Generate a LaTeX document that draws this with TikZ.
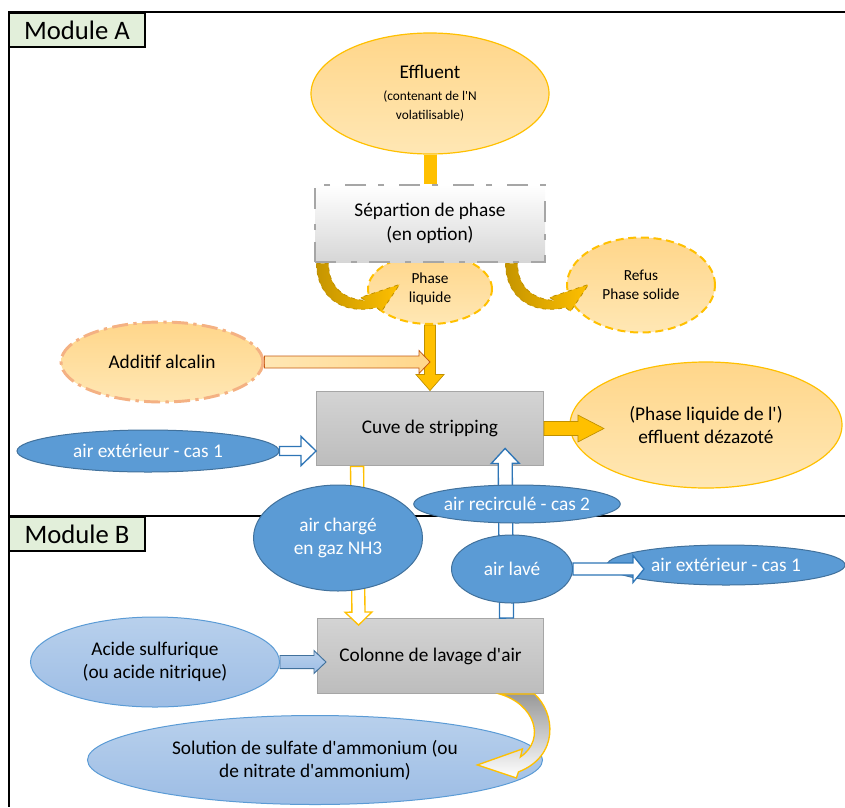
\documentclass[tikz,border=0pt]{standalone}
\usepackage{fontspec}
\setmainfont{Carlito}[Ligatures=TeXOff]
\usepackage{tikz}
\usetikzlibrary{calc}
\usetikzlibrary{shapes.geometric}
\definecolor{amber}{RGB}{255, 192, 0}
\definecolor{darkamber}{RGB}{191, 144, 0}
\definecolor{peach}{RGB}{255, 214, 138}
\definecolor{lightpeach}{RGB}{255, 231, 180}
\definecolor{salmon}{RGB}{244, 177, 131}
\definecolor{rust}{RGB}{197, 90, 17}
\definecolor{steelblue}{RGB}{91, 155, 213}
\definecolor{navyline}{RGB}{65, 113, 156}
\definecolor{arrowblue}{RGB}{46, 117, 182}
\definecolor{paleblue}{RGB}{184, 208, 236}
\definecolor{skyblue}{RGB}{157, 189, 229}
\definecolor{mintgreen}{RGB}{226, 239, 218}
\definecolor{ashgray}{RGB}{166, 166, 166}
\pgfdeclarelayer{back}
\pgfdeclarelayer{mid}
\pgfdeclarelayer{front}
\pgfsetlayers{back,mid,main,front}
\newcommand{\bodyfnt}{\fontsize{14.5}{17.5}\selectfont}
\newcommand{\notefnt}{\fontsize{10}{13}\selectfont}
\newcommand{\labelfnt}{\fontsize{11.5}{14.5}\selectfont}
\newcommand{\modfnt}{\fontsize{20}{24}\selectfont}
% straight block arrow: style, from, to, half shaft, half head, head length
\newcommand{\blockarrow}[6]{%
  \coordinate (ba) at ($(#3)!#6!(#2)$);
  \draw[#1] ($(#2)!#4!90:(#3)$) -- ($(ba)!#4!90:(#3)$) -- ($(ba)!#5!90:(#3)$) -- (#3)
        -- ($(ba)!#5!-90:(#3)$) -- ($(ba)!#4!-90:(#3)$) -- ($(#2)!#4!-90:(#3)$) -- cycle;
}
\tikzset{
  frame/.style={draw=black, line width=1.8pt},
  module/.style={draw=black, line width=1.5pt, fill=mintgreen, minimum width=102pt, minimum height=26pt, font=\modfnt},
  graybox/.style={rectangle, draw=ashgray, line width=0.9pt, top color=black!17, bottom color=black!26, minimum width=170pt, minimum height=56pt, font=\bodyfnt},
  sepbox/.style={rectangle, draw=ashgray, line width=2.2pt, dash pattern=on 16pt off 11pt on 4.5pt off 9pt, top color=white, bottom color=black!16, minimum width=172.5pt, minimum height=57.75pt, align=center, font=\bodyfnt},
  blob/.style={ellipse, inner sep=0pt, align=center, font=\bodyfnt},
  orangeblob/.style={blob, draw=amber, line width=0.9pt, top color=peach, bottom color=lightpeach},
  dashblob/.style={blob, draw=amber, line width=1.5pt, dash pattern=on 6pt off 3.5pt, top color=peach, bottom color=lightpeach, font=\labelfnt},
  alkblob/.style={blob, draw=salmon, line width=2.2pt, dash pattern=on 12pt off 4pt on 2.5pt off 4pt, top color=peach, bottom color=lightpeach},
  blueblob/.style={blob, draw=navyline, line width=0.75pt, fill=steelblue, text=white},
  paleblob/.style={blob, draw=steelblue, line width=0.75pt, top color=paleblue, bottom color=skyblue},
  amberbar/.style={draw=amber, line width=9.75pt},
  orangearrow/.style={draw=darkamber, line width=0.5pt, fill=amber},
  peacharrow/.style={draw=rust, line width=0.6pt, left color=lightpeach, right color=peach},
  hollowblue/.style={draw=arrowblue, line width=1pt, fill=white},
  hollowamber/.style={draw=amber, line width=1pt, fill=white},
  palearrow/.style={draw=navyline, line width=0.7pt, top color=paleblue, bottom color=skyblue},
  goldcurve/.style={draw=darkamber, line width=0.6pt, dashed, left color=darkamber!90!amber, right color=amber},
  washcurve/.style={draw=amber, line width=1pt, top color=black!40, bottom color=white}
}
\begin{document}
\begin{tikzpicture}[x=0.75pt, y=-0.75pt]
  \useasboundingbox (0,0) rectangle (845,807);
  % Module frames and process tanks
  \begin{pgfonlayer}{back}
    \draw[frame] (845,12) -- (9,12) -- (9,807);
    \draw[frame] (9,516) -- (845,516);
    \node[graybox] (cuve)    at (430,428.5) {Cuve de stripping};
    \node[graybox] (colonne) at (430.5,656) {Colonne de lavage d'air};
  \end{pgfonlayer}
  \node[module] (moda) at (77,30)  {Module A};
  \node[module] (modb) at (77,534) {Module B};
  % Module A
  \node[orangeblob, minimum width=178.5pt, minimum height=90.75pt] (eff) at (430,93.5)
       {Effluent\\[-1pt]\notefnt (contenant de l'N\\[-3pt]\notefnt volatilisable)};
  \node[dashblob, minimum width=93pt,  minimum height=52.5pt]  (phl)   at (430,289) {Phase\\liquide};
  \node[dashblob, minimum width=111pt, minimum height=71.25pt] (refus) at (641,285) {Refus\\Phase solide};
  \node[sepbox] (sep) at (430,223.5) {Sépartion de phase\\(en option)};
  \node[alkblob, minimum width=151.5pt, minimum height=60pt] (additif) at (162,362) {Additif alcalin};
  \node[blueblob, minimum width=196.5pt, minimum height=31.5pt] (airexta) at (148,451) {air extérieur - cas 1};
  \node[orangeblob, minimum width=204pt, minimum height=94.5pt] (dezazote) at (706,425)
       {(Phase liquide de l')\\effluent dézazoté};
  % Module B
  \node[blueblob, minimum width=126.75pt, minimum height=79.5pt] (nh3)       at (338,538) {air chargé\\en gaz NH3};
  \node[blueblob, minimum width=149.25pt, minimum height=28.5pt] (recircule) at (517,504) {air recirculé - cas 2};
  \node[blueblob, minimum width=90.75pt,  minimum height=51pt]   (airlave)   at (512,569) {air lavé};
  \node[blueblob, minimum width=178.5pt,  minimum height=30pt]   (airextb)   at (726,565) {air extérieur - cas 1};
  \node[paleblob, minimum width=186.75pt, minimum height=67.5pt] (acide)     at (155,662) {Acide sulfurique\\(ou acide nitrique)};
  \node[paleblob, minimum width=341.25pt, minimum height=66.75pt] (solution) at (315,760)
       {Solution de sulfate d'ammonium (ou\\de nitrate d'ammonium)};
  % Arrow ends
  \coordinate (addtip)  at (additif.east -| cuve.north);
  \coordinate (airtip)  at (airexta.east -| cuve.west);
  \coordinate (deztip)  at ($(cuve.east)+(60,0)$);
  \coordinate (nh3top)  at ($(cuve.south west)+(41,0)$);
  \coordinate (nh3tip)  at ($(colonne.north west)+(42,7)$);
  \coordinate (recbase) at ($(colonne.north west)+(190,0)$);
  \coordinate (rectip)  at ($(cuve.south west)+(189,-18)$);
  \coordinate (lavtip)  at ($(airlave.east)+(71,0)$);
  \coordinate (acitip)  at ($(acide.east)+(46,0)$);
  % Flows behind the ellipses
  \begin{pgfonlayer}{mid}
    \draw[amberbar] (eff.south) -- (sep.north);
    \blockarrow{orangearrow}{phl.south}{cuve.north}{4.1pt}{10.5pt}{12pt}
    \blockarrow{peacharrow}{additif.east}{addtip}{4.5pt}{8.6pt}{8.25pt}
    \blockarrow{hollowblue}{airexta.east}{airtip}{3.4pt}{10.9pt}{11.25pt}
    \blockarrow{hollowamber}{nh3top}{nh3tip}{4.9pt}{10.1pt}{9.75pt}
    \blockarrow{hollowblue}{recbase}{rectip}{5.25pt}{10.5pt}{11.25pt}
    \blockarrow{palearrow}{acide.east}{acitip}{4.9pt}{8.6pt}{9pt}
  \end{pgfonlayer}
  % Flows on top
  \begin{pgfonlayer}{front}
    \blockarrow{orangearrow}{cuve.east}{deztip}{5.25pt}{10.1pt}{19.5pt}
    \blockarrow{hollowblue}{airlave.east}{lavtip}{4.5pt}{10.1pt}{8.25pt}
    % Separation outputs
    \draw[goldcurve, shift={(sep.south west)}]
         (3,0) -- (15,0) .. controls (15,25) and (32,36) .. (52,37) -- (47,34) -- (86,21) -- (68,48) -- (63,44)
         .. controls (30,52) and (3,34) .. (3,0) -- cycle;
    \draw[goldcurve, shift={($(sep.south west)+(189,0)$)}]
         (3,0) -- (15,0) .. controls (15,25) and (32,36) .. (52,37) -- (47,34) -- (86,21) -- (68,48) -- (63,44)
         .. controls (30,52) and (3,34) .. (3,0) -- cycle;
    % Washing solution
    \draw[washcurve, shift={(colonne.south east)}]
         (-45,0) .. controls (-10,10) and (2,45) .. (-24,63) -- (-22,55) -- (-67,71) -- (-28,84) -- (-26,78)
         .. controls (15,62) and (11,19) .. (-10,0) -- cycle;
  \end{pgfonlayer}
\end{tikzpicture}
\end{document}
